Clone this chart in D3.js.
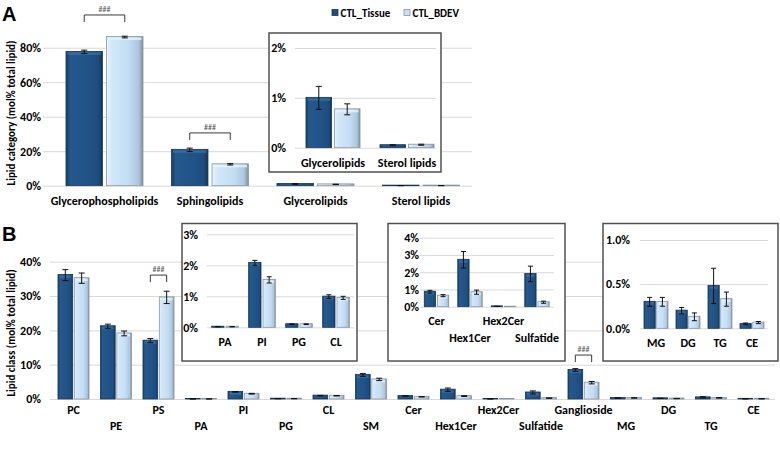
<!DOCTYPE html>
<html><head><meta charset="utf-8">
<script src="https://cdn.jsdelivr.net/npm/d3@7"></script>
<style>
body{margin:0;background:#fff;}
svg{display:block;font-family:Carlito,Lato,"Open Sans",sans-serif;}
.tick line{stroke:#d9d9d9;stroke-width:1;}
.tick text{font-weight:bold;fill:#000;}
</style></head>
<body><svg id="c" width="780" height="454"></svg>
<script>
// ---------- DATA ----------
const seriesNames = ["CTL_Tissue","CTL_BDEV"];

const categoriesA = ["Glycerophospholipids","Sphingolipids","Glycerolipids","Sterol lipids"];
const tissueA    = [77.6, 20.8, 1.0, 0.05];
const tissueAErr = [1.0, 1.0, 0.23, 0.01];
const bdevA      = [86.2, 12.4, 0.77, 0.06];
const bdevAErr   = [0.5, 0.4, 0.11, 0.01];
const insetACats = ["Glycerolipids","Sterol lipids"];
const ticksA      = [0,20,40,60,80];
const ticksInsetA = [0,1,2];

const categoriesB = ["PC","PE","PS","PA","PI","PG","CL","SM","Cer","Hex1Cer","Hex2Cer","Sulfatide","Ganglioside","MG","DG","TG","CE"];
const tissueB    = [36.1, 21.2, 17.0, 0.02, 2.08, 0.10, 0.99, 7.0, 0.87, 2.72, 0.02, 1.90, 8.45, 0.30, 0.20, 0.48, 0.05];
const tissueBErr = [1.6, 0.6, 0.6, 0.005, 0.08, 0.01, 0.06, 0.4, 0.08, 0.48, 0.005, 0.45, 0.4, 0.05, 0.036, 0.2, 0.01];
const bdevB      = [35.2, 19.1, 29.6, 0.02, 1.53, 0.10, 0.95, 5.7, 0.64, 0.84, 0.0, 0.26, 4.75, 0.30, 0.13, 0.33, 0.065];
const bdevBErr   = [1.5, 0.7, 1.8, 0.005, 0.1, 0.01, 0.05, 0.35, 0.06, 0.12, 0, 0.06, 0.35, 0.05, 0.044, 0.08, 0.012];
const ticksB  = [0,10,20,30,40];
const insetB1Cats = ["PA","PI","PG","CL"];
const insetB2Cats = ["Cer","Hex1Cer","Hex2Cer","Sulfatide"];
const insetB3Cats = ["MG","DG","TG","CE"];
const ticksB1 = [0,1,2,3];
const ticksB2 = [0,1,2,3,4];
const ticksB3 = [0,0.5,1.0];

const sigA = [{cat:"Glycerophospholipids", level:99}, {cat:"Sphingolipids", level:30.6}];
const sigB = [{cat:"PS", level:36.1}, {cat:"Ganglioside", level:12.8}];
const sigLabel = "###";

// ---------- DRAW ----------
const FONT = 'Carlito, Lato, "Open Sans", sans-serif';
const svg = d3.select("#c");
const defs = svg.append("defs");
function grad(id, stops){
  const g = defs.append("linearGradient").attr("id",id).attr("x1",0).attr("y1",0).attr("x2",1).attr("y2",0);
  stops.forEach(s=>g.append("stop").attr("offset",s[0]).attr("stop-color",s[1]));
}
grad("gT",[[0,"#163c63"],[0.12,"#25598c"],[0.5,"#21558a"],[0.88,"#1d4d7e"],[1,"#133556"]]);
grad("gB",[[0,"#e8f3fc"],[0.15,"#d2e7f9"],[0.6,"#c3ddf4"],[0.88,"#adc6dd"],[1,"#7e8e9f"]]);
const fills = {CTL_Tissue:"url(#gT)", CTL_BDEV:"url(#gB)"};
const strokes = {CTL_Tissue:"#14385c", CTL_BDEV:"#8796a6"};

function makeRows(cats, t, te, b, be){
  return cats.map((c,i)=>({cat:c, vals:[
    {s:"CTL_Tissue", v:t[i], e:te[i]},
    {s:"CTL_BDEV",  v:b[i], e:be[i]}]}));
}

function chart(opt){
  const g = svg.append("g");
  if(opt.box){
    g.append("rect").attr("x",opt.box[0]).attr("y",opt.box[1])
     .attr("width",opt.box[2]-opt.box[0]).attr("height",opt.box[3]-opt.box[1])
     .attr("fill","#fff").attr("stroke","#505050").attr("stroke-width",1.5);
  }
  const y = d3.scaleLinear().domain(opt.ydom).range(opt.yr);
  const x0 = d3.scaleBand().domain(opt.cats).range(opt.xr).paddingInner(opt.pad).paddingOuter(opt.pad/2);
  const x1 = d3.scaleBand().domain(seriesNames).range([0,x0.bandwidth()]).paddingInner(opt.inner);
  const ax = g.append("g").attr("transform",`translate(${opt.gx[0]},0)`)
    .call(d3.axisLeft(y).tickValues(opt.ticks).tickSize(-(opt.gx[1]-opt.gx[0]))
      .tickPadding(opt.tpad).tickFormat(opt.fmt));
  ax.attr("font-family",FONT);
  ax.select(".domain").remove();
  ax.selectAll("text").attr("font-size",opt.fs+"px");
  ax.selectAll(".tick line").attr("stroke", d=>d===0?"#c8c8c8":"#dcdcdc");
  const rows = makeRows(opt.cats, opt.t, opt.te, opt.b, opt.be);
  const grp = g.selectAll(".grp").data(rows).enter().append("g")
     .attr("transform",d=>`translate(${x0(d.cat)},0)`);
  grp.selectAll("rect").data(d=>d.vals).enter().append("rect")
     .attr("x",d=>x1(d.s)).attr("width",x1.bandwidth())
     .attr("y",d=>y(d.v)-0.5).attr("height",d=>Math.max(0,y(0)-y(d.v))+0.5)
     .attr("fill",d=>fills[d.s]).attr("stroke",d=>strokes[d.s]).attr("stroke-width",0.8);
  grp.selectAll(".hl").data(d=>d.vals.filter(v=>y(0)-y(v.v)>6)).enter().append("rect")
     .attr("x",d=>x1(d.s)+1.5).attr("width",x1.bandwidth()-3)
     .attr("y",d=>y(d.v)+0.5).attr("height",2.5)
     .attr("fill",d=>d.s==="CTL_Tissue"?"#3a6fa3":"#e6f2fc").attr("opacity",0.8);
  const cw = opt.cap;
  const cx = d=>x1(d.s)+x1.bandwidth()/2;
  const eb = grp.selectAll(".eb").data(d=>d.vals.filter(v=>v.e>0)).enter().append("g");
  eb.append("line").attr("x1",cx).attr("x2",cx)
     .attr("y1",d=>y(d.v-d.e)).attr("y2",d=>y(d.v+d.e));
  eb.append("line").attr("x1",d=>cx(d)-cw).attr("x2",d=>cx(d)+cw)
     .attr("y1",d=>y(d.v+d.e)).attr("y2",d=>y(d.v+d.e));
  eb.append("line").attr("x1",d=>cx(d)-cw).attr("x2",d=>cx(d)+cw)
     .attr("y1",d=>y(d.v-d.e)).attr("y2",d=>y(d.v-d.e));
  eb.selectAll("line").attr("stroke","#111").attr("stroke-width",1);
  // x labels (staggered rows where they would collide)
  const xa = g.append("g").attr("transform",`translate(0,${y(0)})`)
     .call(d3.axisBottom(x0).tickSize(0).tickPadding(0));
  xa.attr("font-family",FONT);
  xa.select(".domain").remove();
  xa.selectAll("text").attr("font-size",opt.fs+"px").attr("font-weight","bold").attr("fill","#000")
     .attr("dy",0).attr("y",(d,i)=>opt.xly + (opt.stagger && i%2===1 ? opt.stagger : 0));
  if(opt.sig){
    opt.sig.forEach(s=>{
      const xa_ = x0(s.cat)+x1("CTL_Tissue")+x1.bandwidth()/2;
      const xb_ = x0(s.cat)+x1("CTL_BDEV")+x1.bandwidth()/2;
      const yt = y(s.level);
      g.append("path").attr("d",`M${xa_},${yt+7}V${yt}H${xb_}V${yt+7}`)
       .attr("fill","none").attr("stroke","#3a3a3a").attr("stroke-width",1);
      g.append("text").attr("x",(xa_+xb_)/2).attr("y",yt-3).attr("text-anchor","middle")
       .attr("font-size","8px").attr("fill","#555").text(sigLabel);
    });
  }
}

chart({cats:categoriesA, t:tissueA, te:tissueAErr, b:bdevA, be:bdevAErr,
  ydom:[0,90], yr:[185.7,30.5], xr:[51.75,473.75], pad:0.27, inner:0.1,
  gx:[43,472], ticks:ticksA, tpad:2, fmt:d=>d+"%", fs:12, cap:3, xly:19, sig:sigA});
chart({cats:insetACats, t:tissueA.slice(2), te:tissueAErr.slice(2), b:bdevA.slice(2), be:bdevAErr.slice(2),
  box:[269,33,441,172], ydom:[0,2], yr:[147.7,48], xr:[296,444], pad:0.27, inner:0.1,
  gx:[295,436], ticks:ticksInsetA, tpad:9, fmt:d=>d+"%", fs:12, cap:3, xly:19});

chart({cats:categoriesB, t:tissueB, te:tissueBErr, b:bdevB, be:bdevBErr,
  ydom:[0,40], yr:[399,261.7], xr:[52.25,774.75], pad:0.27, inner:0.1,
  gx:[50,775], ticks:ticksB, tpad:9, fmt:d=>d+"%", fs:12, cap:3, xly:15, stagger:16, sig:sigB});
function sub(cats){ const idx = cats.map(c=>categoriesB.indexOf(c));
  return {cats, t:idx.map(i=>tissueB[i]), te:idx.map(i=>tissueBErr[i]), b:idx.map(i=>bdevB[i]), be:idx.map(i=>bdevBErr[i])}; }
chart(Object.assign(sub(insetB1Cats), {box:[182,223.5,357,361], ydom:[0,3], yr:[327.3,234.3], xr:[206.5,354.5],
  pad:0.28, inner:0.14, gx:[207,354], ticks:ticksB1, tpad:9, fmt:d=>d+"%", fs:12, cap:2.5, xly:19}));
chart(Object.assign(sub(insetB2Cats), {box:[388,223.5,565,361], ydom:[0,4], yr:[306.7,237.7], xr:[419.75,553.75],
  pad:0.27, inner:0.14, gx:[420,554], ticks:ticksB2, tpad:1, fmt:d=>d+"%", fs:12, cap:2.5, xly:18, stagger:17}));
chart(Object.assign(sub(insetB3Cats), {box:[603,223.5,778,361], ydom:[0,1], yr:[328.3,240], xr:[640,768],
  pad:0.25, inner:0.12, gx:[640,768], ticks:ticksB3, tpad:10, fmt:d=>d.toFixed(1)+"%", fs:12, cap:2.5, xly:19}));

svg.append("text").attr("x",2).attr("y",21).attr("font-size","20px").attr("font-weight","bold")
  .attr("font-family","Liberation Sans, Arial, sans-serif").text("A");
svg.append("text").attr("x",2).attr("y",241).attr("font-size","20px").attr("font-weight","bold")
  .attr("font-family","Liberation Sans, Arial, sans-serif").text("B");

svg.append("text").attr("transform","translate(15,113) rotate(-90)").attr("text-anchor","middle")
  .attr("font-size","11px").attr("font-weight","bold").text("Lipid category (mol% total lipid)");
svg.append("text").attr("transform","translate(15,333) rotate(-90)").attr("text-anchor","middle")
  .attr("font-size","11px").attr("font-weight","bold").text("Lipid class (mol% total lipid)");

const lg = svg.append("g").attr("transform","translate(332,13)");
const lx = d3.scalePoint().domain(seriesNames).range([0,72]);
seriesNames.forEach(s=>{
  const gg = lg.append("g").attr("transform",`translate(${lx(s)},0)`);
  gg.append("rect").attr("x",0).attr("y",-3.5).attr("width",6).attr("height",6)
    .attr("fill",s==="CTL_Tissue"?"#1f4e79":"#c7e0f5").attr("stroke",strokes[s]).attr("stroke-width",0.8);
  gg.append("text").attr("x",8.5).attr("y",4).attr("font-size","11px").attr("font-weight",600).text(s);
});
</script></body></html>
